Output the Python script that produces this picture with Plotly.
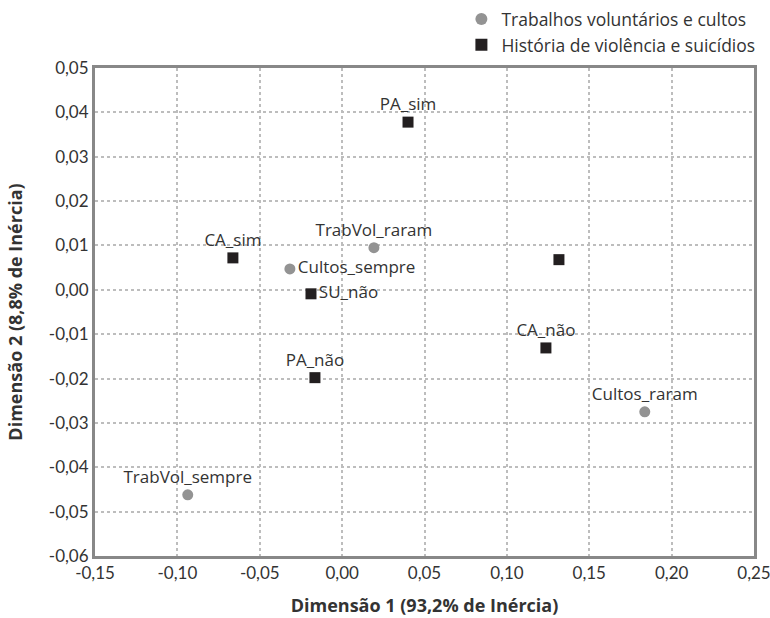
import plotly.graph_objects as go

# Series 1: Trabalhos voluntários e cultos
s1_name = "Trabalhos voluntários e cultos"
s1_labels = ["TrabVol_sempre", "TrabVol_raram", "Cultos_sempre", "Cultos_raram"]
s1_x = [-0.0937, 0.0193, -0.0317, 0.1837]
s1_y = [-0.0462, 0.0095, 0.0047, -0.0275]
s1_pos = ["top center", "top center", "middle right", "top center"]

# Series 2: História de violência e suicídios
s2_name = "História de violência e suicídios"
s2_labels = ["PA_sim", "PA_não", "CA_sim", "CA_não", "SU_não", ""]
s2_x = [0.0400, -0.0165, -0.0663, 0.1237, -0.0189, 0.1316]
s2_y = [0.0378, -0.0198, 0.0072, -0.0131, -0.0009, 0.0068]
s2_pos = ["top center", "top center", "top center", "top center", "middle right", "top center"]

x_ticks = [-0.15, -0.10, -0.05, 0.00, 0.05, 0.10, 0.15, 0.20, 0.25]
x_ticktext = ["-0,15", "-0,10", "-0,05", "0,00", "0,05", "0,10", "0,15", "0,20", "0,25"]
y_ticks = [0.05, 0.04, 0.03, 0.02, 0.01, 0.00, -0.01, -0.02, -0.03, -0.04, -0.05, -0.06]
y_ticktext = ["0,05", "0,04", "0,03", "0,02", "0,01", "0,00", "-0,01", "-0,02", "-0,03", "-0,04", "-0,05", "-0,06"]

x_title = "Dimensão 1 (93,2% de Inércia)"
y_title = "Dimensão 2 (8,8% de Inércia)"

label_font = dict(family="Open Sans, Noto Sans, sans-serif", size=17, color="#333333")
tick_font = dict(family="Lato, sans-serif", size=17, color="#333333")
title_font = dict(family="Open Sans, sans-serif", size=18, color="#333333")

fig = go.Figure()
fig.add_trace(go.Scatter(
    x=s1_x, y=s1_y, text=s1_labels, textposition=s1_pos, mode="markers+text",
    name=s1_name, marker=dict(symbol="circle", size=11, color="#939393"),
    textfont=label_font, cliponaxis=False))
fig.add_trace(go.Scatter(
    x=s2_x, y=s2_y, text=s2_labels, textposition=s2_pos, mode="markers+text",
    name=s2_name, marker=dict(symbol="square", size=11, color="#231f20"),
    textfont=label_font, cliponaxis=False))

grid = dict(showgrid=True, gridcolor="#bdbdbd", gridwidth=2, griddash="dot")
fig.update_xaxes(range=[-0.15, 0.25], tickvals=x_ticks, ticktext=x_ticktext,
                 tickfont=tick_font, zeroline=False, showline=True, mirror=True,
                 linecolor="#888888", linewidth=3, ticks="", ticklen=0, automargin=False,
                 ticklabeloverflow="allow",
                 title=dict(text="<b>" + x_title + "</b>", font=title_font, standoff=17),
                 **grid)
fig.update_yaxes(range=[-0.06, 0.05], tickvals=y_ticks, ticktext=y_ticktext,
                 tickfont=tick_font, zeroline=False, showline=True, mirror=True,
                 linecolor="#888888", linewidth=3, ticks="", ticklen=0, automargin=False,
                 ticklabeloverflow="allow",
                 title=dict(text="<b>" + y_title + "</b>", font=title_font, standoff=22),
                 **grid)

fig.update_layout(
    width=770, height=618,
    margin=dict(l=95, r=16, t=68, b=62, autoexpand=False),
    plot_bgcolor="white", paper_bgcolor="white",
    showlegend=True,
    legend=dict(x=0.556, y=1.137, xanchor="left", yanchor="top",
                font=dict(family="Open Sans, sans-serif", size=17.5, color="#333333"),
                itemsizing="constant", tracegroupgap=0, bgcolor="rgba(0,0,0,0)"),
)

# remove the browser's default 8px page margin so the figure fills the window
fig.write_html("out.html", config={"displayModeBar": False},
               post_script="document.body.style.margin='0px';document.body.style.overflow='hidden';")
